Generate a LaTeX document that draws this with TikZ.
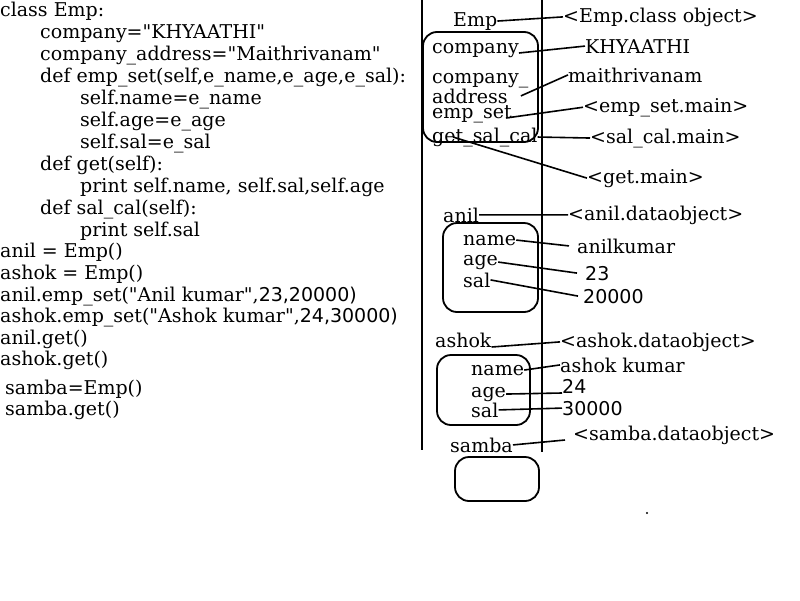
\documentclass[tikz,border=0pt]{standalone}
\usepackage{fontspec}
\setmainfont{DejaVu Serif}[Ligatures=TeXOff]
\newfontfamily\numfont{DejaVu Sans}[Ligatures=TeXOff]

\begin{document}
\begin{tikzpicture}[x=1pt, y=-1pt,
  txt/.style={inner sep=0pt, anchor=base west, font=\fontsize{19}{22}\selectfont},
  num/.style={txt, font=\fontsize{19}{22}\selectfont\numfont},
  objbox/.style={draw, line width=1.8pt, rounded corners=14pt},
  bar/.style={line width=2pt},
  link/.style={line width=1.6pt}]
\useasboundingbox (0,0) rectangle (800,600);

% program text
\node[txt] (c1) at (0,16) {class Emp:};
\node[txt] (c2) at (40,38) {company="KHYAATHI"};
\node[txt] (c3) at (40,60) {company\_address="Maithrivanam"};
\node[txt] (c4) at (40,82) {def emp\_set(self,e\_name,e\_age,e\_sal):};
\node[txt] (c5) at (80,104) {self.name=e\_name};
\node[txt] (c6) at (80,126) {self.age=e\_age};
\node[txt] (c7) at (80,148) {self.sal=e\_sal};
\node[txt] (c8) at (40,170) {def get(self):};
\node[txt] (c9) at (80,192) {print self.name, self.sal,self.age};
\node[txt] (c10) at (40,214) {def sal\_cal(self):};
\node[txt] (c11) at (80,236) {print self.sal};
\node[txt] (c12) at (0,257) {anil = Emp()};
\node[txt] (c13) at (0,279) {ashok = Emp()};
\node[txt] (c14) at (0,301) {anil.emp\_set("Anil kumar",{\numfont 23,20000)}};
\node[txt] (c15) at (0,322) {ashok.emp\_set("Ashok kumar",{\numfont 24,30000)}};
\node[txt] (c16) at (0,344) {anil.get()};
\node[txt] (c17) at (0,365) {ashok.get()};
\node[txt] (c18) at (5,394) {samba=Emp()};
\node[txt] (c19) at (5,415) {samba.get()};

% memory columns
\draw[bar] (422,0) -- (422,450);
\draw[bar] (542,0) -- (542,452);

% class object
\node[txt] (emp) at (453,26) {Emp};
\node[txt] (empcls) at (563,22) {<Emp.class object>};
\node[txt] (company) at (432,53) {company};
\node[txt] (khy) at (585,53) {KHYAATHI};
\node[txt] (compaddr) at (432,83) {company\_};
\node[txt] (addr) at (432,103) {address};
\node[txt] (mai) at (568,82) {maithrivanam};
\node[txt] (empset) at (432,118) {emp\_set};
\node[txt] (empsetv) at (583,112) {<emp\_set.main>};
\node[txt] (gsc) at (432,142) {get\_sal\_cal};
\node[txt] (salcalv) at (590,143) {<sal\_cal.main>};
\node[txt] (getv) at (587,183) {<get.main>};
\draw[objbox] (423,32) rectangle (538,142);

% anil
\node[txt] (anil) at (443,222) {anil};
\node[txt] (anilv) at (568,220) {<anil.dataobject>};
\node[txt] (aname) at (463,245) {name};
\node[txt] (anamev) at (577,253) {anilkumar};
\node[txt] (aage) at (463,265) {age};
\node[num] (aagev) at (585,280) {23};
\node[txt] (asal) at (463,287) {sal};
\node[num] (asalv) at (583,303) {20000};
\draw[objbox] (443,223) rectangle (538,312);

% ashok
\node[txt] (ashok) at (435,347) {ashok};
\node[txt] (ashokv) at (560,347) {<ashok.dataobject>};
\node[txt] (sname) at (471,375) {name};
\node[txt] (snamev) at (560,372) {ashok kumar};
\node[txt] (sage) at (471,397) {age};
\node[num] (sagev) at (562,393) {24};
\node[txt] (ssal) at (471,417) {sal};
\node[num] (ssalv) at (562,415) {30000};
\draw[objbox] (437,355) rectangle (530,425);

% samba
\node[txt] (samba) at (450,452) {samba};
\node[txt] (sambav) at (573,440) {<samba.dataobject>};
\draw[objbox] (455,457) rectangle (539,501);

\fill (647,513) circle (1.2pt);

\path[link]
(emp.east) edge (empcls.west)
(company.base east) edge (khy.west)
([xshift=13pt]addr.east) edge (mai.west)
([xshift=-6pt]empset.base east) edge (empsetv.west)
(gsc.east) edge (salcalv.west)
([xshift=21pt]gsc.west) edge (getv.west)
(anil.east) edge (anilv.west)
(aname.east) edge ([xshift=-8pt]anamev.west)
(aage.east) edge ([xshift=-8pt]aagev.west)
(asal.east) edge ([xshift=-5pt]asalv.west)
(ashok.base east) edge (ashokv.west)
(sname.east) edge (snamev.west)
(sage.east) edge (sagev.base west)
(ssal.east) edge (ssalv.west)
(samba.east) edge ([xshift=-8pt]sambav.base west)
;
\end{tikzpicture}
\end{document}
